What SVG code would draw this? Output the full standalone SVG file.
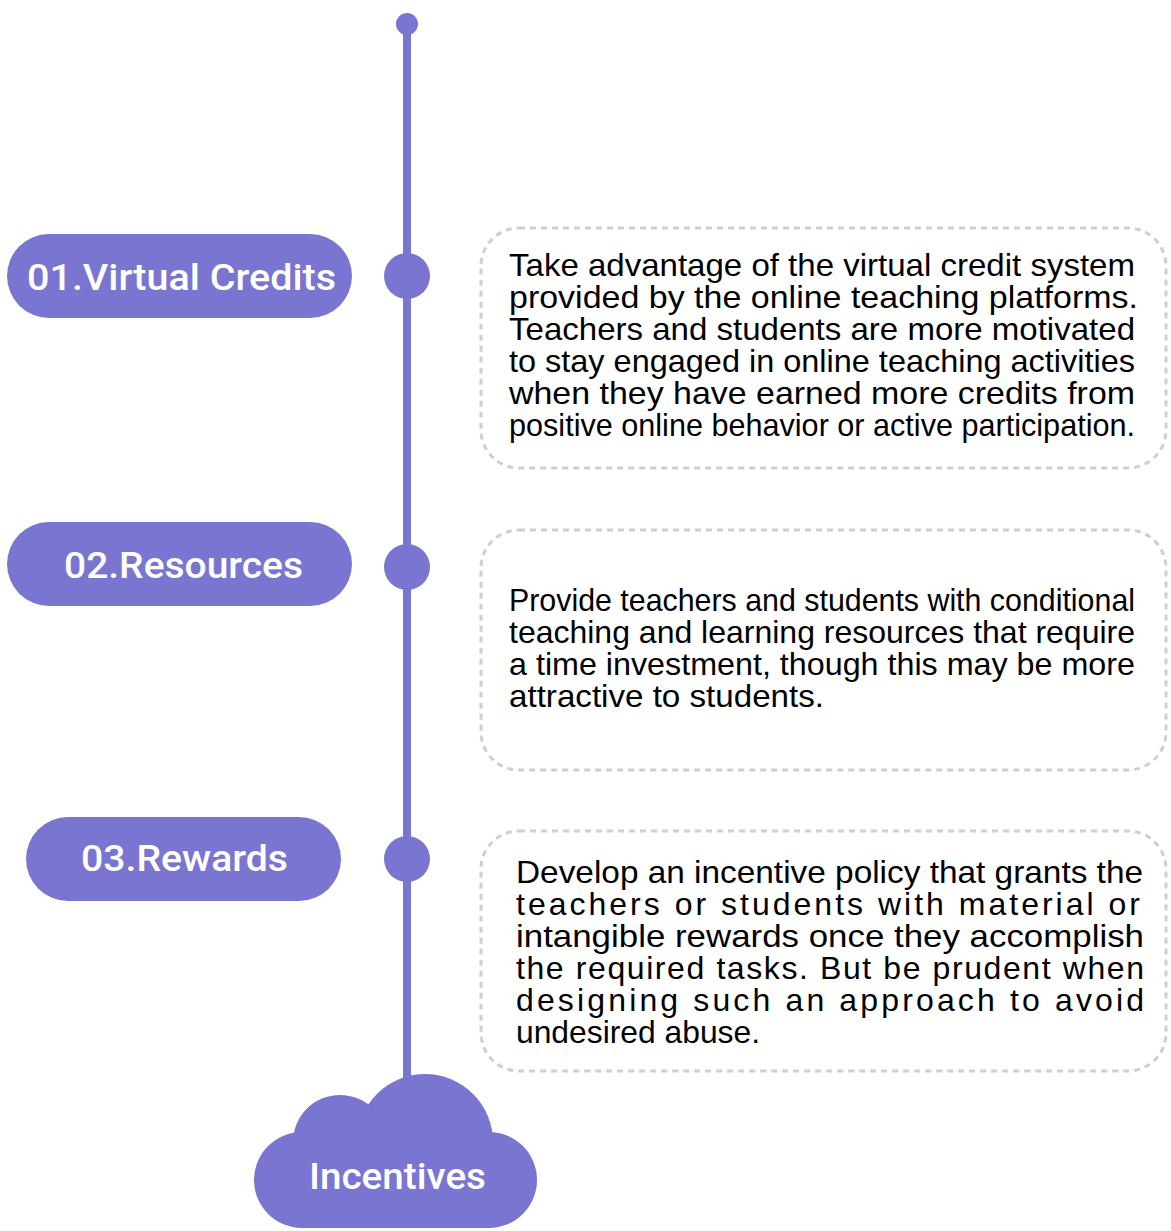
<svg xmlns="http://www.w3.org/2000/svg" width="1171" height="1231" viewBox="0 0 1171 1231">
<style>
.p{fill:#7a75d0}
.lbl{font-family:Roboto,"Liberation Sans",sans-serif;font-size:36px;fill:#ffffff;font-weight:500}
.box{fill:none;stroke:#cfcfcf;stroke-width:3;stroke-dasharray:6 5}
.d{font-family:"Liberation Sans",Arial,sans-serif;font-size:32px;fill:#000000}
</style>
<rect width="1171" height="1231" fill="#ffffff"/>
<g id="connectors">
<line x1="407" y1="24" x2="407" y2="1085" stroke="#7a75d0" stroke-width="8"/>
<circle class="p" cx="407" cy="24" r="11"/>
</g>
<g id="node1">
<rect class="p" x="7" y="234" width="345" height="84" rx="42"/>
<circle class="p" cx="407" cy="276" r="23"/>
<text class="lbl" x="27" y="290" textLength="309" lengthAdjust="spacingAndGlyphs">01.Virtual Credits</text>
</g>
<g id="node2">
<rect class="p" x="7" y="522" width="345" height="84" rx="42"/>
<circle class="p" cx="407" cy="567" r="23"/>
<text class="lbl" x="64" y="578" textLength="239" lengthAdjust="spacingAndGlyphs">02.Resources</text>
</g>
<g id="node3">
<rect class="p" x="26" y="817" width="315" height="84" rx="42"/>
<circle class="p" cx="407" cy="859" r="23"/>
<text class="lbl" x="81" y="871" textLength="207" lengthAdjust="spacingAndGlyphs">03.Rewards</text>
</g>
<g id="desc1">
<rect class="box" x="481" y="228" width="685" height="240" rx="38"/>
<text class="d" x="509" y="276" textLength="626" lengthAdjust="spacingAndGlyphs">Take advantage of the virtual credit system</text>
<text class="d" x="509" y="308" textLength="629" lengthAdjust="spacingAndGlyphs">provided by the online teaching platforms.</text>
<text class="d" x="509" y="340" textLength="626" lengthAdjust="spacingAndGlyphs">Teachers and students are more motivated</text>
<text class="d" x="509" y="372" textLength="626" lengthAdjust="spacingAndGlyphs">to stay engaged in online teaching activities</text>
<text class="d" x="509" y="404" textLength="626" lengthAdjust="spacingAndGlyphs">when they have earned more credits from</text>
<text class="d" x="509" y="436" textLength="626" lengthAdjust="spacingAndGlyphs">positive online behavior or active participation.</text>
</g>
<g id="desc2">
<rect class="box" x="481" y="530" width="685" height="240" rx="38"/>
<text class="d" x="509" y="611" textLength="626" lengthAdjust="spacingAndGlyphs">Provide teachers and students with conditional</text>
<text class="d" x="509" y="643" textLength="626" lengthAdjust="spacingAndGlyphs">teaching and learning resources that require</text>
<text class="d" x="509" y="675" textLength="626" lengthAdjust="spacingAndGlyphs">a time investment, though this may be more</text>
<text class="d" x="509" y="707" textLength="315" lengthAdjust="spacingAndGlyphs">attractive to students.</text>
</g>
<g id="desc3">
<rect class="box" x="481" y="831" width="685" height="240" rx="38"/>
<text class="d" x="516" y="883" textLength="627" lengthAdjust="spacingAndGlyphs">Develop an incentive policy that grants the</text>
<text class="d" x="516" y="915" textLength="624" lengthAdjust="spacing">teachers or students with material or</text>
<text class="d" x="516" y="947" textLength="628" lengthAdjust="spacingAndGlyphs">intangible rewards once they accomplish</text>
<text class="d" x="516" y="979" textLength="628" lengthAdjust="spacing">the required tasks. But be prudent when</text>
<text class="d" x="516" y="1011" textLength="628" lengthAdjust="spacing">designing such an approach to avoid</text>
<text class="d" x="516" y="1043" textLength="244" lengthAdjust="spacingAndGlyphs">undesired abuse.</text>
</g>
<g id="incentives">
<circle class="p" cx="302" cy="1180" r="48"/>
<circle class="p" cx="340" cy="1142" r="47"/>
<circle class="p" cx="425" cy="1142" r="68"/>
<circle class="p" cx="489" cy="1180" r="48"/>
<rect class="p" x="302" y="1140" width="187" height="88"/>
<text class="lbl" x="309" y="1189" textLength="177" lengthAdjust="spacingAndGlyphs">Incentives</text>
</g>
</svg>
